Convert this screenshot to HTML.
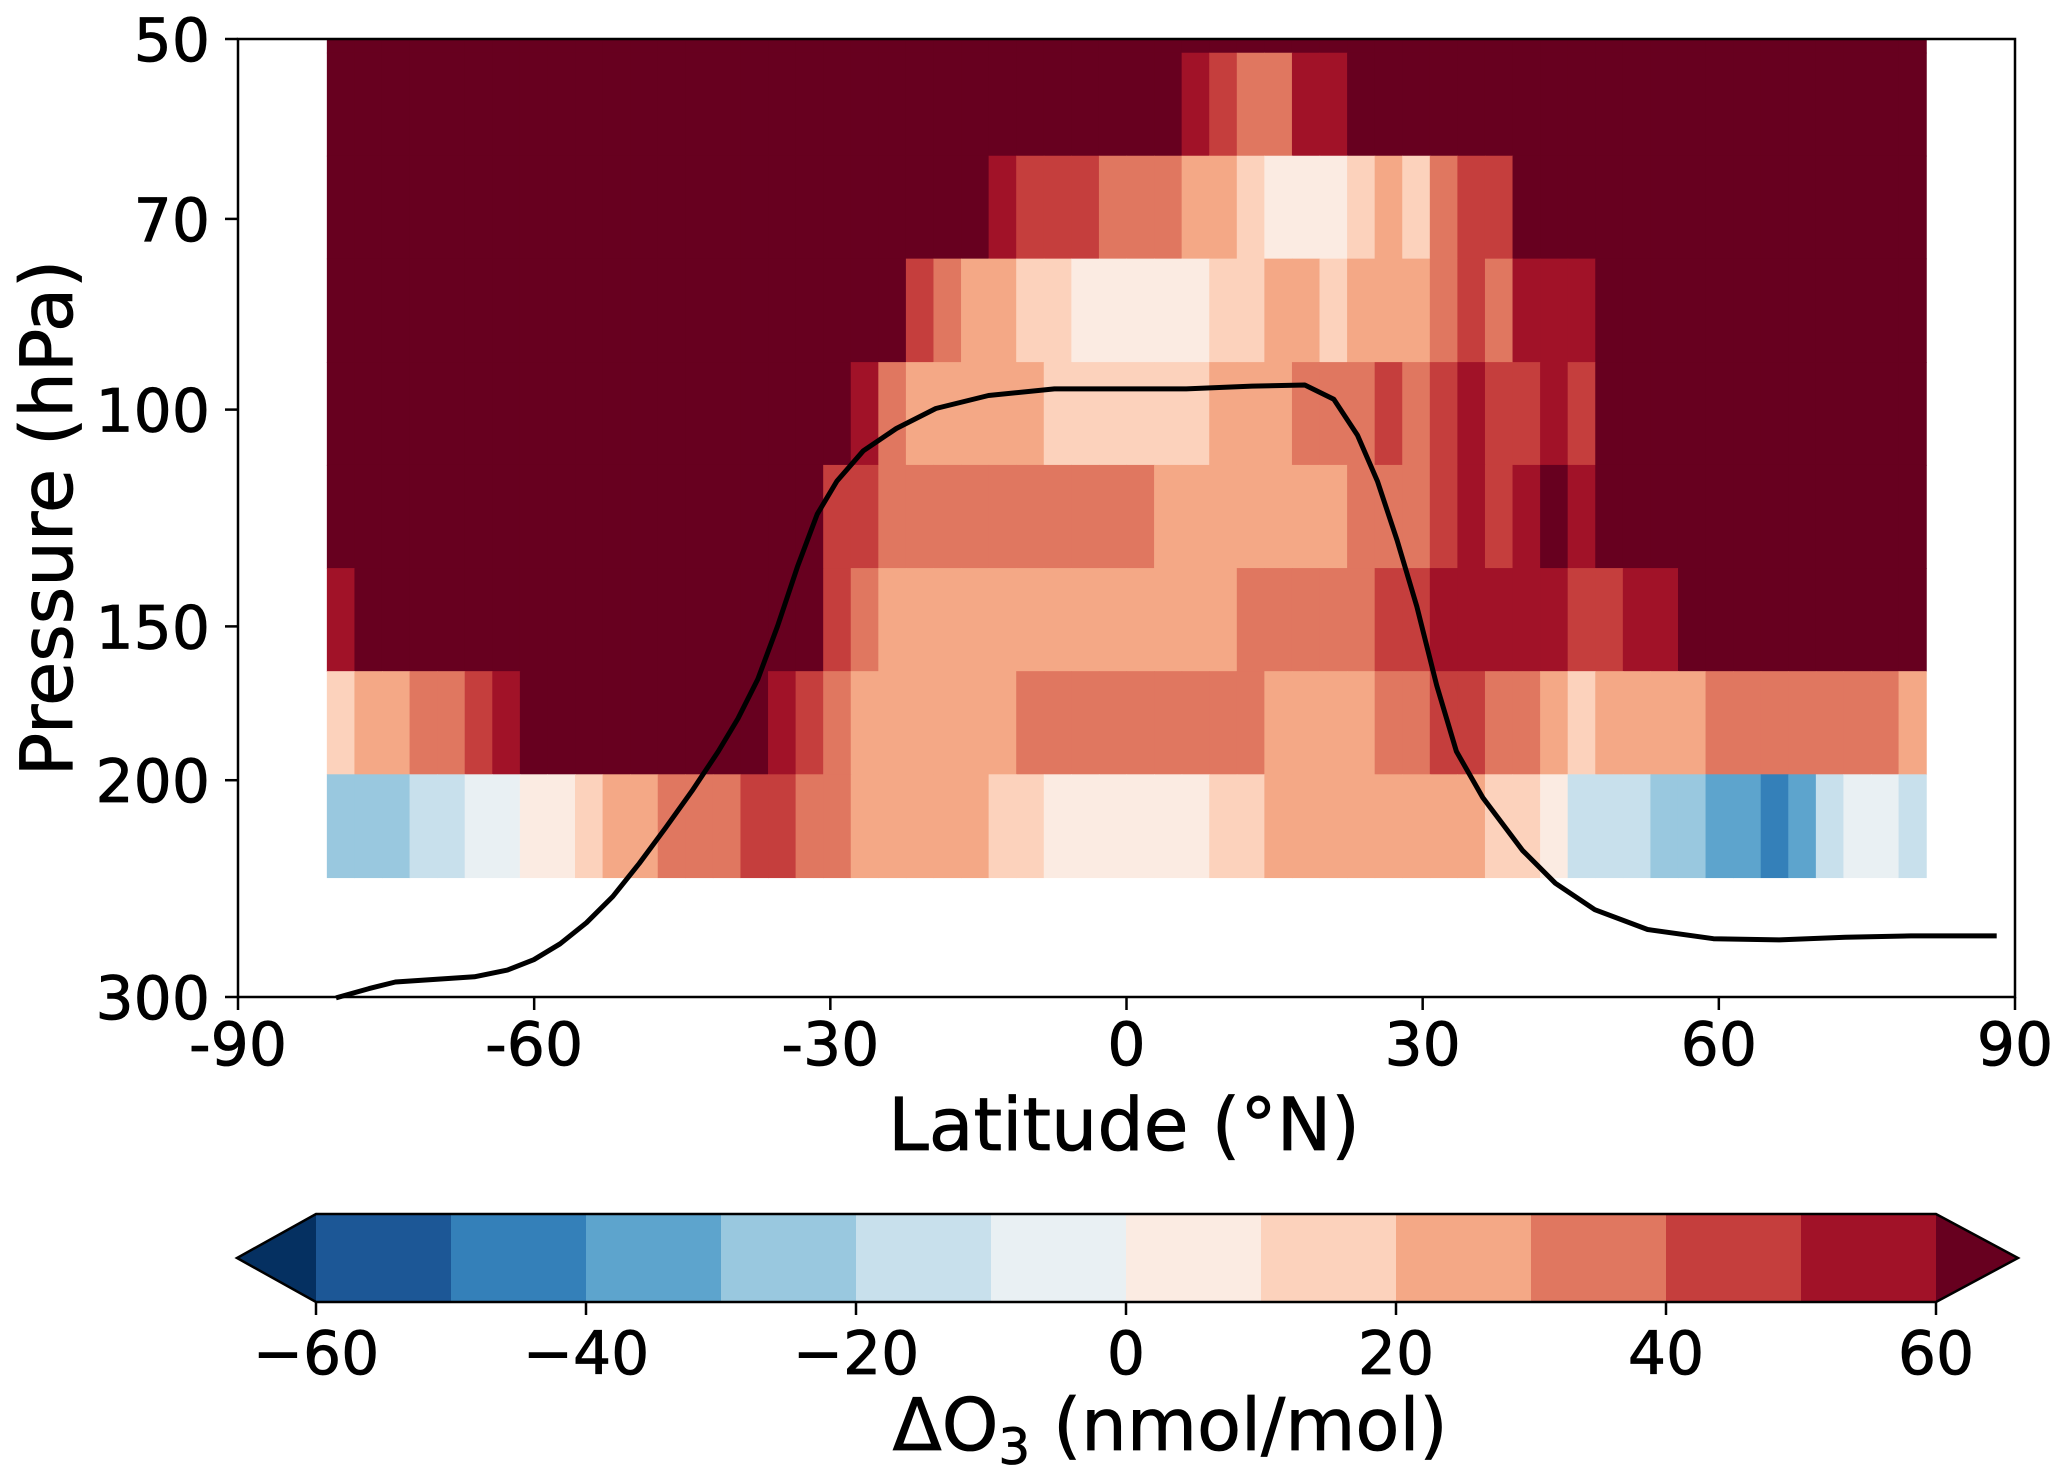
<!DOCTYPE html>
<html><head><meta charset="utf-8"><style>
html,body{margin:0;padding:0;background:#fff}
svg{display:block}
text{font-family:"DejaVu Sans","Liberation Sans",sans-serif;fill:#000;stroke:#000;stroke-width:0.8}
</style></head><body>
<svg id="chart" width="2067" height="1482" viewBox="0 0 2067 1482" xmlns="http://www.w3.org/2000/svg">
<g id="cells"></g>
<polyline id="tropo" fill="none" stroke="#000" stroke-width="5" stroke-linejoin="round"/>
<rect x="238" y="39" width="1777" height="958" fill="none" stroke="#000" stroke-width="2.5"/>
<g id="axes"></g>
<text x="1124" y="1150" font-size="73" text-anchor="middle">Latitude (°N)</text>
<text transform="translate(72,518) rotate(-90)" font-size="72" text-anchor="middle">Pressure (hPa)</text>
<g id="cbar"></g>
<text x="1170" y="1450" font-size="72" text-anchor="middle">ΔO<tspan font-size="50" dy="14">3</tspan><tspan dy="-14"> (nmol/mol)</tspan></text>
</svg>
<script>
const latStart = -81.0, latStep = 162/58, nCols = 58;
const pEdges = [50, 51.3, 62.2, 75.4, 91.5, 110.9, 134.5, 163.1, 197.8, 239.9];
function fill(spec){const a=[];spec.forEach(([n,v])=>{for(let i=0;i<n;i++)a.push(v);});return a;}
const rowTop = fill([[58,65]]);
const row0 = fill([[31,65],[1,55],[1,45],[2,35],[2,55],[21,65]]);
const row1 = fill([[24,65],[1,55],[3,45],[3,35],[2,25],[1,15],[3,5],[1,15],[1,25],[1,15],[1,35],[2,45],[15,65]]);
const row2 = fill([[21,65],[1,45],[1,35],[2,25],[2,15],[5,5],[2,15],[2,25],[1,15],[3,25],[1,35],[1,45],[1,35],[3,55],[12,65]]);
const row3 = fill([[19,65],[1,55],[1,35],[5,25],[6,15],[3,25],[3,35],[1,45],[1,35],[1,45],[1,55],[2,45],[1,55],[1,45],[12,65]]);
const row4 = fill([[18,65],[2,45],[10,35],[7,25],[3,35],[1,45],[1,55],[1,45],[1,55],[1,65],[1,55],[12,65]]);
const row5 = fill([[1,55],[17,65],[1,45],[1,35],[13,25],[5,35],[2,45],[5,55],[2,45],[2,55],[9,65]]);
const row6 = fill([[1,15],[2,25],[2,35],[1,45],[1,55],[9,65],[1,55],[1,45],[1,35],[6,25],[9,35],[4,25],[2,35],[2,45],[2,35],[1,25],[1,15],[4,25],[7,35],[1,25]]);
const row7 = fill([[3,-25],[2,-15],[2,-5],[2,5],[1,15],[2,25],[3,35],[2,45],[2,35],[5,25],[2,15],[6,5],[2,15],[8,25],[2,15],[1,5],[3,-15],[2,-25],[2,-35],[1,-45],[1,-35],[1,-15],[2,-5],[1,-15]]);
const rows = [rowTop,row0,row1,row2,row3,row4,row5,row6,row7];
const levels = [-60,-50,-40,-30,-20,-10,0,10,20,30,40,50,60];
const colors = ["#053061","#1c5796","#3480b9","#5da4cd","#99c8df","#c8e0ec","#e9f0f3","#fbebe2","#fcd2bc","#f4a886","#e07760","#c53e3d","#a11228","#67001f"];
const tropoLat = [-80.07,-76.73,-74.06,-70.05,-66.05,-62.71,-60.04,-57.37,-54.70,-52.03,-49.36,-46.69,-44.02,-41.35,-39.35,-37.34,-35.34,-33.34,-31.33,-29.33,-26.66,-23.32,-19.32,-13.98,-7.30,-0.63,6.05,12.72,18.06,21.00,23.40,25.41,27.41,29.41,31.42,33.42,36.09,40.10,43.43,47.44,52.78,59.45,66.13,72.80,79.47,88.15];
const tropoP = [300.5,295.3,291.7,290.3,288.9,285.3,279.8,271.6,261.1,248.6,233.7,218.6,204.1,189.5,178.2,165.5,149.9,134.2,121.6,114.3,108.0,103.6,99.8,97.4,96.2,96.2,96.2,95.7,95.5,98.1,104.9,114.3,127.7,144.5,167.5,189.5,206.6,228.0,242.5,254.8,264.4,269.0,269.6,268.3,267.6,267.6];
const xTicks = [-90,-60,-30,0,30,60,90];
const yTicks = [50,70,100,150,200,300];
const cbTicks = ["−60","−40","−20","0","20","40","60"];

const X0=238,X1=2015,Y0=39,Y1=997;
const xs = lat => X0+(lat+90)/180*(X1-X0);
const ys = p => Y0+Math.log(p/50)/Math.log(300/50)*(Y1-Y0);
function colorFor(v){if(v<levels[0])return colors[0];for(let i=0;i<levels.length-1;i++){if(v<levels[i+1])return colors[i+1];}return colors[colors.length-1];}
const NS="http://www.w3.org/2000/svg";
function mk(t,a,parent){const e=document.createElementNS(NS,t);for(const k in a)e.setAttribute(k,a[k]);parent.appendChild(e);return e;}
const cg=document.getElementById('cells');
rows.forEach((row,r)=>{
  const ya=ys(pEdges[r]), yb=ys(pEdges[r+1]);
  row.forEach((v,c)=>{
    const xa=xs(latStart+c*latStep), xb=xs(latStart+(c+1)*latStep);
    const e=mk('rect',{x:xa,y:ya,width:xb-xa+0.6,height:yb-ya+0.6,fill:colorFor(v)},cg);
    
    
  });
});
document.getElementById('tropo').setAttribute('points',tropoLat.map((l,i)=>xs(l).toFixed(1)+','+ys(tropoP[i]).toFixed(1)).join(' '));
const ax=document.getElementById('axes');
xTicks.forEach(t=>{
  const x=xs(t);
  const l=mk('line',{x1:x,y1:Y1,x2:x,y2:Y1+13,stroke:'#000','stroke-width':2.5},ax);
  
  
  const tx=mk('text',{x:x,y:1065,'font-size':60,'text-anchor':'middle'},ax);
  tx.textContent=String(t);
  
  
});
yTicks.forEach(t=>{
  const y=ys(t);
  const l=mk('line',{x1:X0-13,y1:y,x2:X0,y2:y,stroke:'#000','stroke-width':2.5},ax);
  
  
  const tx=mk('text',{x:210,y:y+22,'font-size':60,'text-anchor':'end'},ax);
  tx.textContent=String(t);
  
  
});
const cb=document.getElementById('cbar');
const B0=316,B1=1936,BT=1214,BB=1302,TL=237,TR=2018;
const bw=(B1-B0)/(levels.length-1);
const lt=mk('polygon',{points:`${B0},${BT} ${TL},${(BT+BB)/2} ${B0},${BB}`,fill:colors[0]},cb);


for(let i=0;i<levels.length-1;i++){
  const r=mk('rect',{x:B0+i*bw,y:BT,width:bw+0.5,height:BB-BT,fill:colors[i+1]},cb);
  
  
}
const rt=mk('polygon',{points:`${B1},${BT} ${TR},${(BT+BB)/2} ${B1},${BB}`,fill:colors[colors.length-1]},cb);


const ol=mk('polygon',{points:`${B0},${BT} ${B1},${BT} ${TR},${(BT+BB)/2} ${B1},${BB} ${B0},${BB} ${TL},${(BT+BB)/2}`,fill:'none',stroke:'#000','stroke-width':2.5},cb);


cbTicks.forEach((t,i)=>{
  const x=B0+i*(B1-B0)/(cbTicks.length-1);
  const l=mk('line',{x1:x,y1:BB,x2:x,y2:BB+13,stroke:'#000','stroke-width':2.5},cb);
  
  
  const tx=mk('text',{x:x,y:1374,'font-size':60,'text-anchor':'middle'},cb);
  tx.textContent=t;
  
  
});
</script>
</body></html>
